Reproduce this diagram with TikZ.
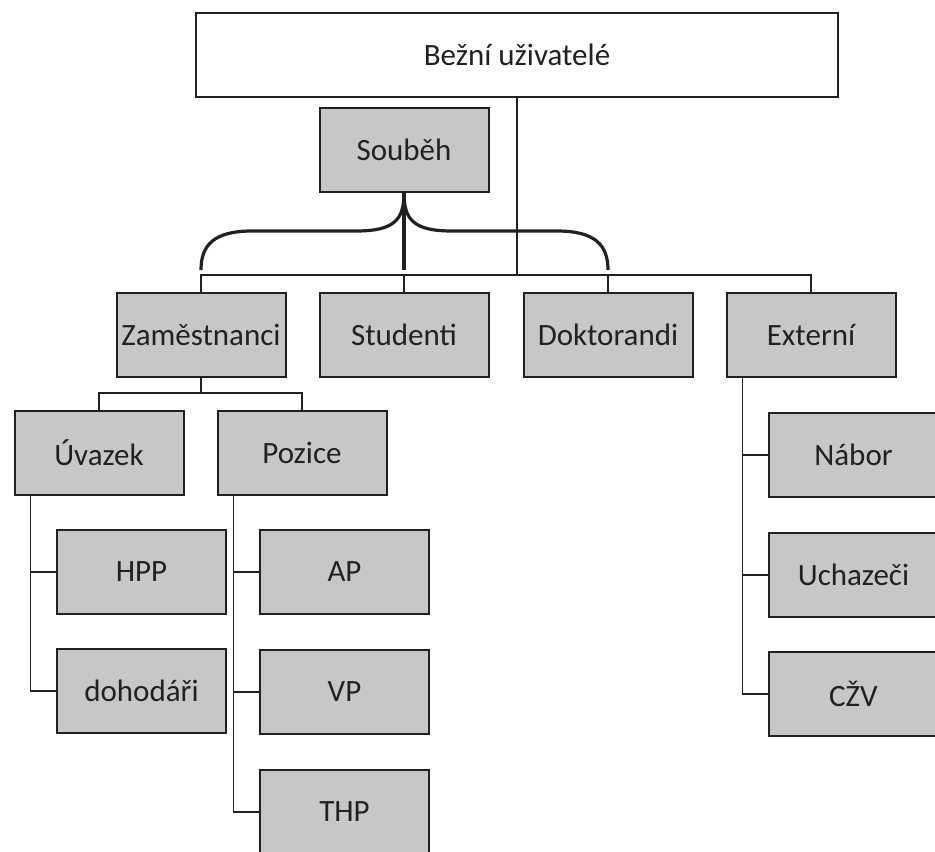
\documentclass[tikz,border=0pt]{standalone}
\usepackage{fontspec}
\setmainfont{Carlito}
\colorlet{boxgray}{black!22}
\colorlet{ink}{black!87}
\tikzset{
    every node/.style={draw=ink,line width=1pt,text=ink,font=\fontsize{15.5}{18}\selectfont,inner sep=0pt},
    a/.style={rectangle,fill=boxgray,minimum width=84.5pt,minimum height=42pt},
    root/.style={rectangle,fill=white,minimum width=321pt,minimum height=42pt},
    link/.style={ink,line width=0.85pt},
    curly/.style={ink,line width=1.6pt}
}
\begin{document}
\begin{tikzpicture}[x=0.5pt,y=-0.5pt]
\useasboundingbox (0,0) rectangle (935,851);
\clip (0,0) rectangle (935,851);

\node[root] at (517,55) (bu) {Bežní uživatelé};
\node[a] at (404,150) (sou) {Souběh};

\node[a] at (201,335) (zam) {Zaměstnanci};
\node[a] at (404,335) (stu) {Studenti};
\node[a] at (608,335) (dok) {Doktorandi};
\node[a] at (811,335) (ext) {Externí};

\coordinate (bus) at (517,275);
\draw[link] (bu) -- (bus);
\draw[link] (zam.north) |- (bus) -| (ext.north);
\draw[link] (stu.north) -- (stu.north |- bus);
\draw[link] (dok.north) -- (dok.north |- bus);

% soubeh brace
\coordinate (bl) at (201,270);
\coordinate (bm) at (404,270);
\coordinate (br) at (608,270);
\draw[curly] (sou.south) .. controls (404,220) and (394,231) .. (356,231) -- (252,231) .. controls (214,231) and (201,245) .. (bl);
\draw[curly] (sou.south) .. controls (404,220) and (414,231) .. (452,231) -- (557,231) .. controls (595,231) and (608,245) .. (br);
\draw[curly] (sou.south) -- (bm);

\node[a] at (99,453) (uva) {Úvazek};
\node[a] at (302,453) (poz) {Pozice};
\coordinate (zs) at (201,393);
\draw[link] (zam) -- (zs);
\draw[link] (uva.north) |- (zs) -| (poz.north);

\node[a] at (141.5,572) (hpp) {HPP};
\node[a] at (141.5,691) (doh) {dohodáři};
\coordinate (ul) at ([xshift=8.5pt]uva.south west);
\draw[link] (ul) |- (doh.west);
\draw[link] (hpp.west) -- (hpp.west -| ul);

\node[a] at (344.5,572) (ap) {AP};
\node[a] at (344.5,692) (vp) {VP};
\node[a] at (344.5,812) (thp) {THP};
\coordinate (pl) at ([xshift=8.5pt]poz.south west);
\draw[link] (pl) |- (thp.west);
\draw[link] (ap.west) -- (ap.west -| pl);
\draw[link] (vp.west) -- (vp.west -| pl);

\node[a] at (853.5,455) (nab) {Nábor};
\node[a] at (853.5,575) (uch) {Uchazeči};
\node[a] at (853.5,694) (czv) {CŽV};
\coordinate (el) at ([xshift=8.5pt]ext.south west);
\draw[link] (el) |- (czv.west);
\draw[link] (nab.west) -- (nab.west -| el);
\draw[link] (uch.west) -- (uch.west -| el);
\end{tikzpicture}
\end{document}
